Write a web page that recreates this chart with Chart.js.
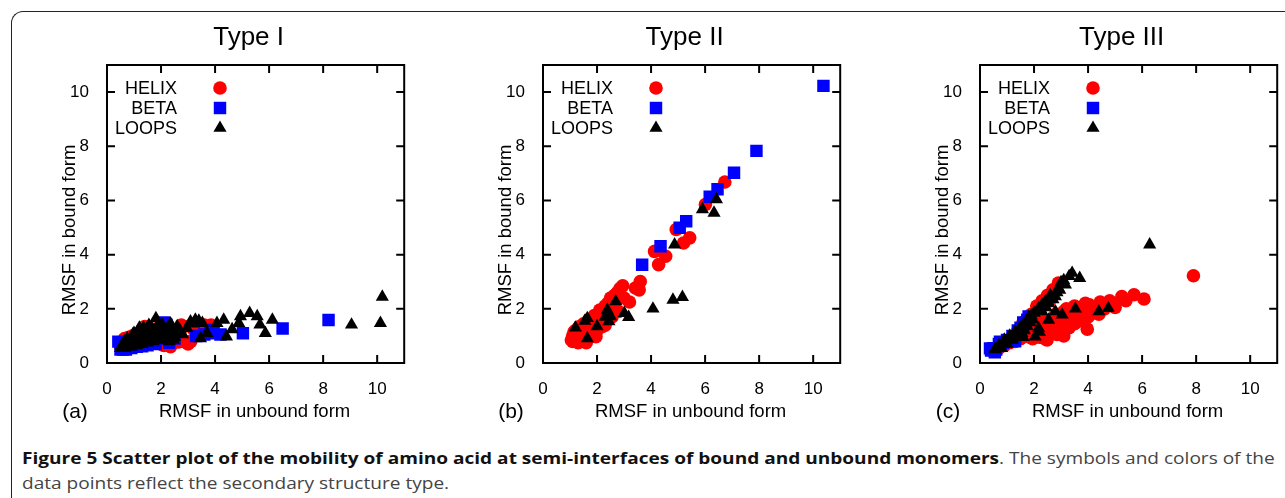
<!DOCTYPE html>
<html>
<head>
<meta charset="utf-8">
<script src="https://cdn.jsdelivr.net/npm/chart.js@4/dist/chart.umd.min.js"></script>
<style>
  body { margin: 0; width: 1285px; height: 498px; overflow: hidden; background: #fff; position: relative; }
  #frame { position: absolute; left: 11px; top: 11px; width: 1300px; height: 520px;
    border-left: 1.5px solid #222; border-top: 1.5px solid #222; border-top-left-radius: 12px; }
  canvas { position: absolute; top: 0; }
  .cap { position: absolute; left: 22px; font-family: "Open Sans", sans-serif; font-size: 16.5px;
    line-height: 22px; white-space: nowrap; color: #444; transform-origin: left center; }
  .cap b { color: #111; font-weight: 700; }
</style>
</head>
<body>
<div id="frame"></div>
<canvas id="ca" width="398" height="440" style="left:15px"></canvas>
<canvas id="cb" width="398" height="440" style="left:451px"></canvas>
<canvas id="cc" width="398" height="440" style="left:888px"></canvas>
<div class="cap" id="cap1" style="top:447px"><b>Figure 5 Scatter plot of the mobility of amino acid at semi-interfaces of bound and unbound monomers</b>. The symbols and colors of the</div>
<div class="cap" id="cap2" style="top:472px">data points reflect the secondary structure type.</div>
<script>
// axis setup
const axisMin = 0;
const axisMax = 11;
const tickStep = 2;
const seriesNames = ["HELIX", "BETA", "LOOPS"];
const seriesColors = ["#ff0000", "#0000ff", "#000000"];

// Type I  [unbound, bound]
const aHelix = [[0.5,0.6],[0.55,0.7],[0.6,0.8],[0.65,0.9],[0.7,0.65],[0.75,0.75],[0.8,0.95],[0.85,0.7],[0.9,0.85],[0.95,1.0],
  [1.0,0.75],[1.05,0.9],[1.1,1.05],[1.15,0.8],[1.2,1.1],[1.25,0.95],[1.3,0.75],[1.35,1.2],[1.4,1.35],[1.45,0.9],
  [1.5,1.05],[1.55,1.2],[1.6,0.8],[1.7,1.0],[1.75,1.25],[1.8,0.75],[1.9,1.1],[2.0,0.7],[2.05,1.2],[2.1,0.65],
  [2.2,0.9],[2.3,0.7],[2.35,0.6],[2.45,1.1],[2.6,0.8],[2.65,0.78],[2.75,1.4],[2.85,1.35],[2.9,0.78],[3.1,0.8],
  [3.2,1.25],[3.45,1.2],[3.6,1.4],[3.85,1.4],[3.0,0.7],[0.48,0.74]];
const aBeta = [[0.42,0.79],[0.5,0.5],[0.55,0.6],[0.6,0.5],[0.7,0.5],[0.9,0.55],[1.1,0.6],[1.3,0.62],[1.5,0.65],[1.8,0.7],
  [2.0,0.9],[2.1,1.5],[2.2,1.41],[2.3,0.75],[2.5,0.9],[3.3,1.0],[3.6,1.05],[3.83,1.22],[3.95,1.1],[4.2,1.05],
  [5.03,1.1],[6.5,1.27],[8.2,1.59]];
const aLoops = [[0.5,0.55],[0.6,0.6],[0.7,0.65],[0.8,0.7],[0.9,0.6],[1.0,0.75],[1.1,0.65],[1.2,0.85],[1.3,0.7],[1.4,0.95],
  [1.5,0.75],[1.6,1.05],[1.7,0.8],[1.8,1.15],[1.9,0.9],[2.0,1.2],[2.1,0.85],[2.2,1.05],[2.3,0.8],[2.4,1.1],
  [2.5,0.95],[0.65,0.8],[0.85,0.9],[1.05,1.0],[1.25,1.1],[1.45,1.2],[1.65,1.3],[1.85,1.35],[2.05,1.4],[2.25,1.3],
  [2.45,1.25],[1.81,1.65],[1.55,1.4],[1.35,1.3],[1.15,1.2],[0.95,1.05],[0.75,0.9],[1.75,0.95],[1.95,1.05],[2.15,1.2],
  [2.6,1.35],[2.59,1.3],[2.96,1.28],[3.09,1.53],[3.27,1.59],[3.4,1.56],[3.53,1.47],[3.46,0.91],[3.7,1.1],[4.07,1.47],
  [4.32,1.59],[4.42,0.97],[4.63,1.24],[4.88,1.47],[4.94,1.72],[5.28,1.84],[5.56,1.72],[5.66,1.41],[5.86,1.1],[6.12,1.59],
  [9.05,1.41],[10.12,1.47],[10.19,2.44],[3.2,1.45],[2.35,1.45],
  [0.55,0.65],[0.65,0.55],[0.75,0.6],[0.85,0.62],[0.95,0.7],[1.05,0.8],[1.15,0.7],[1.25,0.9],[1.35,0.8],[1.45,1.05],
  [1.55,0.85],[1.65,1.15],[1.75,1.1],[1.85,1.0],[1.95,1.25],[2.05,0.95],[2.15,1.0],[2.25,0.9],[2.35,1.15],[2.45,0.85],
  [2.55,1.15],[2.7,1.2],[2.8,1.05],[1.2,1.3],[1.0,1.1]];

// Type II
const bHelix = [[1.05,0.85],[1.1,1.0],[1.15,1.15],[1.2,0.9],[1.25,1.1],[1.3,1.25],[1.35,0.95],[1.4,0.8],[1.45,1.3],[1.5,1.05],
  [1.55,1.2],[1.6,1.4],[1.65,1.0],[1.7,1.25],[1.75,1.5],[1.8,1.15],[1.85,1.6],[1.9,1.35],[1.95,1.05],[2.0,1.5],
  [2.05,1.7],[2.1,1.3],[2.15,1.8],[2.2,1.55],[2.25,2.0],[2.3,1.4],[2.35,1.75],[2.4,2.2],[2.45,1.9],[2.5,2.4],
  [2.55,1.7],[2.6,2.1],[2.7,2.3],[2.75,2.6],[2.8,1.9],[2.95,2.85],[3.0,2.4],[3.2,2.25],[3.42,2.77],[3.6,3.01],
  [3.56,2.7],[4.13,4.12],[4.28,3.63],[4.54,3.94],[4.93,4.93],[5.2,4.43],[5.43,4.62],[6.01,5.85],[6.73,6.68],[1.6,0.75],
  [1.3,0.75],[1.96,0.97],[1.1,0.8],[1.2,1.2],[1.35,1.35],[1.5,1.45],[1.7,1.6],[1.9,1.75],[2.1,1.95],[2.3,2.1],
  [2.55,2.3],[2.65,2.5],[2.85,2.75],[1.8,1.3],[2.2,1.35],[2.4,1.6],[2.65,1.95]];
const bBeta = [[3.67,3.63],[4.35,4.31],[5.06,4.99],[5.3,5.23],[6.17,6.14],[6.46,6.41],[7.07,7.02],[7.9,7.83],[10.38,10.23]];
const bLoops = [[1.2,1.3],[1.64,1.65],[2.0,1.35],[1.64,0.91],[2.38,1.96],[2.69,2.27],[2.5,1.72],[2.44,1.53],[3.01,1.84],[3.17,1.69],
  [1.55,1.55],[2.3,1.7],[4.07,2.0],[4.81,2.33],[5.16,2.43],[4.87,4.37],[5.9,5.67],[6.33,5.54],[6.42,6.04]];

// Type III
const cHelix = [[0.5,0.45],[0.7,0.55],[0.9,0.65],[1.1,0.75],[1.3,0.8],[1.5,0.9],[1.7,1.0],[1.85,0.95],[2.0,1.1],[2.1,1.3],
  [2.25,1.1],[2.4,0.9],[2.5,1.25],[2.6,1.4],[2.75,1.2],[2.85,1.05],[2.95,1.5],[3.1,1.0],[3.1,1.9],[3.3,1.6],
  [3.45,1.75],[3.6,1.85],[3.75,2.05],[3.85,1.95],[3.97,1.25],[4.05,2.15],[4.2,1.85],[4.3,2.05],[4.45,2.25],[4.6,2.0],
  [4.8,2.3],[5.0,2.05],[5.25,2.45],[5.7,2.52],[6.07,2.36],[7.9,3.22],[1.6,1.5],[1.9,1.8],[2.1,2.1],[2.3,2.3],
  [2.5,2.5],[2.7,2.7],[2.9,2.95],[1.4,1.2],[2.2,1.9],[2.6,2.35],[2.48,0.85],[2.85,1.1],[2.6,1.35],[2.35,1.6],
  [3.3,1.3],[3.5,1.45],[3.7,1.55],[4.0,1.7],[4.4,1.8],[4.9,2.2],[5.4,2.3],[3.2,2.0],[3.5,2.1],[2.7,1.6],
  [2.8,1.8],[3.0,1.3],[2.4,1.3],[2.2,0.95],[1.95,0.9],[3.9,2.2]];
const cBeta = [[0.37,0.54],[0.41,0.46],[0.5,0.55],[0.6,0.5],[0.74,0.79],[0.7,0.7],[0.85,0.75],[1.0,0.85],[1.2,1.0],[1.4,1.2],
  [1.5,1.3],[1.6,1.5],[1.8,1.72],[1.75,1.6],[0.55,0.4],[1.3,0.8]];
const cLoops = [[3.41,3.32],[3.69,3.13],[3.16,2.89],[3.0,2.98],[2.9,2.77],[2.79,2.46],[2.6,2.5],[2.42,2.27],[2.3,2.15],[2.17,2.02],
  [1.9,1.75],[1.8,1.69],[1.7,1.5],[1.5,1.3],[1.3,1.15],[1.1,1.0],[0.9,0.85],[0.7,0.65],[0.55,0.5],[1.2,0.85],
  [1.4,1.0],[1.0,0.7],[0.8,0.55],[6.28,4.37],[2.79,1.9],[3.04,1.78],[3.53,2.0],[4.4,1.9],[4.75,2.02],[2.54,1.59],
  [2.17,1.28],[2.04,0.97],[1.6,1.4],[1.45,1.25],[1.6,0.95],[2.2,1.15],
  [3.3,3.2],[3.1,3.05],[2.95,2.7],[2.85,2.6],[2.7,2.35],[2.55,2.2],[2.45,2.05],[2.3,1.9],[2.0,1.85],[1.95,1.6],
  [1.85,1.5],[1.75,1.35],[1.65,1.2],[1.55,1.1],[1.35,1.05],[1.25,0.95],[1.15,0.9],[0.95,0.75],[0.85,0.7],[0.75,0.6],
  [0.65,0.55]];

const panels = [
  { id: "ca", title: "Type I", tag: "(a)", sets: [aHelix, aBeta, aLoops] },
  { id: "cb", title: "Type II", tag: "(b)", sets: [bHelix, bBeta, bLoops] },
  { id: "cc", title: "Type III", tag: "(c)", sets: [cHelix, cBeta, cLoops] },
];

const styles = [
  { pointStyle: "circle", radius: 6.8 },
  { pointStyle: "rect", radius: 8.8 },
  { pointStyle: "triangle", radius: 7.6 },
];

Chart.defaults.font.family = "'Liberation Sans', Arial, sans-serif";
Chart.defaults.color = "#000";

// frame, inward ticks, titles, legend drawn around the chart area
const decor = {
  id: "decor",
  afterDraw(chart, args, opts) {
    const ctx = chart.ctx;
    const a = chart.chartArea;
    const xs = chart.scales.x, ys = chart.scales.y;
    ctx.save();
    ctx.strokeStyle = "#000";
    ctx.lineWidth = 2;
    ctx.strokeRect(a.left, a.top, a.right - a.left, a.bottom - a.top);
    ctx.beginPath();
    xs.ticks.forEach((t) => {
      const px = xs.getPixelForValue(t.value);
      ctx.moveTo(px, a.bottom); ctx.lineTo(px, a.bottom - 8);
      ctx.moveTo(px, a.top); ctx.lineTo(px, a.top + 8);
    });
    ys.ticks.forEach((t) => {
      const py = ys.getPixelForValue(t.value);
      ctx.moveTo(a.left, py); ctx.lineTo(a.left + 8, py);
      ctx.moveTo(a.right, py); ctx.lineTo(a.right - 8, py);
    });
    ctx.stroke();

    const cx = (a.left + a.right) / 2;
    ctx.fillStyle = "#000";
    ctx.textBaseline = "middle";
    ctx.textAlign = "center";
    ctx.font = "26px 'Liberation Sans', Arial, sans-serif";
    ctx.fillText(opts.title, cx - 7, 38);
    ctx.font = "18.5px 'Liberation Sans', Arial, sans-serif";
    ctx.fillText("RMSF in unbound form", cx - 1, a.bottom + 49);
    ctx.save();
    ctx.translate(a.left - 37, a.bottom - 133);
    ctx.rotate(-Math.PI / 2);
    ctx.fillText("RMSF in bound form", 0, 0);
    ctx.restore();
    ctx.font = "21px 'Liberation Sans', Arial, sans-serif";
    ctx.fillText(opts.tag, a.left - 32, a.bottom + 49);

    // key
    ctx.font = "18px 'Liberation Sans', Arial, sans-serif";
    ctx.textAlign = "right";
    chart.data.datasets.forEach((ds, i) => {
      const y = a.top + 23 + i * 20;
      ctx.fillStyle = "#000";
      ctx.fillText(ds.label, a.left + 70, y + 1);
      ctx.fillStyle = ds.backgroundColor;
      Chart.helpers.drawPoint(ctx, { pointStyle: ds.pointStyle, radius: ds.pointRadius, rotation: 0, borderWidth: 0 }, a.left + 113, y);
    });
    ctx.restore();
  },
};

panels.forEach((p) => {
  const datasets = p.sets.map((pts, i) => ({
    label: seriesNames[i],
    data: pts.map((d) => ({ x: d[0], y: d[1] })),
    backgroundColor: seriesColors[i],
    borderColor: seriesColors[i],
    borderWidth: 0,
    pointStyle: styles[i].pointStyle,
    pointRadius: styles[i].radius,
    pointHoverRadius: styles[i].radius,
    order: 3 - i,
  }));
  new Chart(document.getElementById(p.id), {
    type: "scatter",
    data: { datasets },
    options: {
      responsive: false,
      animation: false,
      devicePixelRatio: 1,
      layout: { padding: { top: 65, right: 8, left: 0, bottom: 0 } },
      plugins: { legend: { display: false }, tooltip: { enabled: false }, decor: { title: p.title, tag: p.tag } },
      scales: {
        x: {
          type: "linear", min: axisMin, max: axisMax,
          grid: { display: false }, border: { display: false },
          ticks: { stepSize: tickStep, includeBounds: false, padding: 8, font: { size: 17 } },
          afterFit: (s) => { s.height = 77; },
        },
        y: {
          type: "linear", min: axisMin, max: axisMax,
          grid: { display: false }, border: { display: false },
          ticks: { stepSize: tickStep, includeBounds: false, padding: 10, font: { size: 17 } },
          afterFit: (s) => { s.width = 92; },
        },
      },
    },
    plugins: [decor],
  });
});

// squeeze the caption to the frame width like the condensed original
const cap1 = document.getElementById("cap1");
const cap2 = document.getElementById("cap2");
const k = 1253 / cap1.scrollWidth;
cap1.style.transform = "scaleX(" + k + ")";
cap2.style.transform = "scaleX(" + k + ")";
</script>
</body>
</html>
